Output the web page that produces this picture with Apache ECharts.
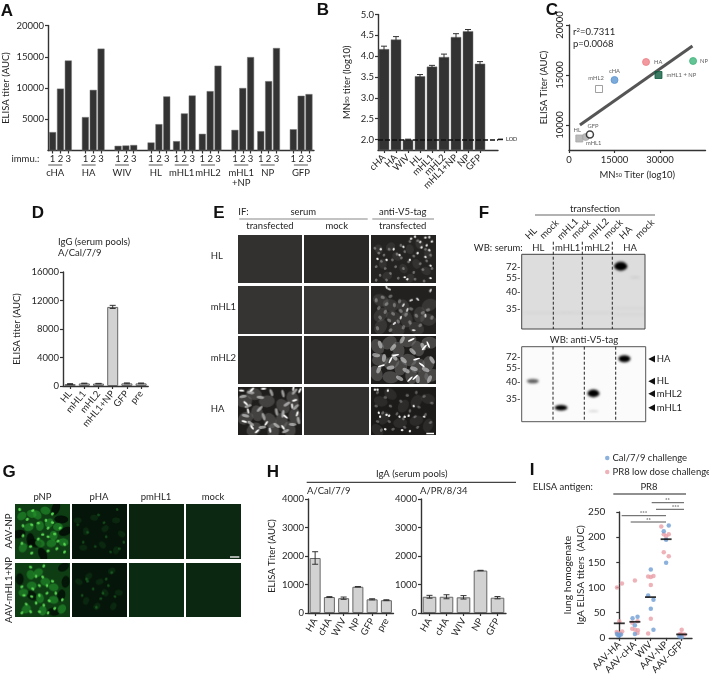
<!DOCTYPE html>
<html><head><meta charset="utf-8">
<style>html,body{margin:0;padding:0;background:#fff}#c{width:709px;height:677px}</style>
<script src="https://cdn.jsdelivr.net/npm/echarts@6/dist/echarts.min.js"></script>
</head><body><div id="c"></div>
<script>
// ---------- data ----------
const groupsA = ['cHA','HA','WIV','HL','mHL1','mHL2','mHL1\n+NP','NP','GFP'];
const startsA = [0.59,4.77,8.94,13.15,16.4,19.69,23.85,27.15,31.3];
const immu = ['1','2','3'];
const valuesA = [[2950,9900,14400],[5350,9700,16300],[750,800,880],[1280,4220,8650],[1500,5930,8800],[2670,9500,13570],[3300,10000,14950],[3100,11100,16400],[3400,8760,9030]];
const catsB = ['cHA','HA','WIV','HL','mHL1','mHL2','mHL1+NP','NP','GFP',''];
const valuesB = [4.17,4.4,2.0,3.52,3.75,3.98,4.46,4.6,3.82];
const errB = [0.07,0.07,0.01,0.04,0.03,0.07,0.08,0.04,0.05];
const namesC = ['cHA','HA','NP','mHL1 + NP','mHL2','GFP','HL','mHL1'];
const mnC = [15000,25400,40900,29500,9900,6900,3400,5500];
const elisaC = [14500,16300,16400,15000,13600,9050,8650,8800];
const fitC = [[3600,10000],[40700,17900]];
const catsD = ['HL','mHL1','mHL2','mHL1+NP','GFP','pre'];
const valuesD = [270,360,340,11100,370,370];
const errD = [60,40,30,220,60,50];
const catsH1 = ['HA','cHA','WIV','NP','GFP','pre'];
const valuesH1 = [1930,560,520,920,480,450];
const errH1 = [220,15,40,10,20,15];
const catsH2 = ['HA','cHA','WIV','NP','GFP'];
const valuesH2 = [570,570,550,1490,537];
const errH2 = [50,70,60,8,40];
const catsI = ['AAV-HA','AAV-cHA','WIV','AAV-NP','AAV-GFP'];
const calI = [[-.15,8],[0,5],[.11,7],[-.06,5],[.85,39],[1.17,42],[1,25],[1,8],[2.02,136],[1.85,84],[2.19,76],[2.02,58],[2.19,16],[3.17,223],[2.85,212],[3,195],[3,149],[3.85,3],[4,2]];
const pr8I = [[-.15,100],[.17,108],[0,33],[-.17,12],[.19,13],[-.1,10],[.05,9],[1,114],[.83,30],[1.17,33],[.83,18],[1.02,16],[1.19,15],[1.17,10],[1.85,122],[2.02,121],[2.19,123],[2.02,105],[2.02,38],[1.85,9],[2.69,221],[2.85,206],[3.17,206],[3,202],[2.85,170],[3.17,162],[4,16],[3.85,7],[4,7],[4.17,7],[3.92,8]];
const meanI = [29,32,81,196,7];

// ---------- micrograph textures (hand-placed blobs, % of panel) ----------
const photos = {
 e1:{bg:'#242321',layers:[
  {c:'#bbb',rx:5,ry:4,a:.1,p:[[12,30],[30,25],[18,60],[40,45],[60,30],[75,20],[88,40],[70,60],[50,70],[25,85],[85,75],[60,90]]},
  {c:'#ccc',rx:1.5,ry:1.3,a:.45,p:[[6,28],[12,38],[20,42],[28,30],[16,55],[33,52],[40,40],[47,48],[46,22],[52,35],[60,14],[72,12],[84,30],[92,42],[66,44],[58,56],[76,60],[86,54],[80,72],[94,70],[66,78],[50,70],[38,66],[22,70],[8,66],[14,84],[30,80],[8,94],[24,94],[42,90],[68,92],[82,96]]},
  {c:'#fff',rx:1.3,ry:1.1,a:.95,p:[[15,30],[44,42],[50,25],[62,8],[68,4],[76,15],[84,6],[90,5],[94,14],[78,26],[86,22],[90,32],[72,38],[60,52],[84,46],[52,88],[56,92],[92,90],[24,52],[92,64],[35,30],[10,50]]}]},
 e2:{bg:'#222120',layers:[
  {c:'#aaa',rx:8,ry:6,a:.16,p:[[15,30],[30,40],[15,60],[35,65],[50,45],[55,70],[75,60],[88,70],[70,88],[40,90],[15,85],[90,40]]},
  {c:'#ccc',rx:2.2,ry:1.6,a:.42,p:[[8,30],[18,24],[30,22],[24,38],[12,46],[36,40],[44,32],[22,54],[34,58],[46,52],[54,60],[14,66],[28,72],[42,74],[60,76],[70,62],[80,56],[88,50],[94,66],[76,82],[50,86],[30,92],[62,48],[10,88]]},
  {c:'#fff',rx:2,ry:1,a:.85,p:[[24,3],[28,7],[50,40],[62,30],[72,28],[56,50],[46,66],[84,62],[36,78],[66,92],[92,10]]}]},
 e3:{bg:'#1e1d1c',layers:[
  {c:'#888',rx:8,ry:6,a:.4,p:[[10,22],[28,14],[42,28],[58,10],[72,26],[90,14],[14,50],[32,56],[58,50],[72,62],[88,58],[30,86],[62,84],[80,88],[8,78],[46,66],[94,82]]},
  {c:'#ccc',rx:4,ry:2,a:.65,p:[[14,18],[34,24],[48,8],[64,32],[80,22],[20,46],[36,44],[30,66],[54,72],[66,68],[84,70],[94,50],[12,70],[44,88],[72,90],[90,90],[50,50],[8,40]]},
  {c:'#fff',rx:3.6,ry:.9,a:1,p:[[88,18],[82,24],[38,40],[30,50],[68,86],[60,90],[16,62],[78,60],[62,8],[70,48]]}]},
 e4:{bg:'#1f1e1c',layers:[
  {c:'#888',rx:8,ry:6,a:.35,p:[[10,30],[25,15],[45,30],[70,40],[85,25],[12,65],[30,55],[50,70],[68,70],[88,60],[25,88],[55,92],[80,88]]},
  {c:'#ccc',rx:3.8,ry:1.5,a:.7,p:[[8,20],[20,12],[35,22],[52,12],[70,14],[88,10],[16,40],[34,46],[60,52],[76,36],[90,42],[12,60],[40,62],[70,56],[85,78],[20,76],[38,84],[60,80],[74,92],[94,70]]},
  {c:'#fff',rx:2.8,ry:1,a:1,p:[[6,8],[22,6],[40,4],[86,3],[96,8],[12,34],[88,28],[84,40],[10,72],[22,84],[30,92],[44,76],[50,90],[70,84],[74,62],[92,56],[16,50]]}]},
 e5:{bg:'#1c1b1a',layers:[
  {c:'#999',rx:7,ry:5,a:.13,p:[[15,30],[30,15],[50,40],[70,30],[88,25],[20,65],[45,75],[70,70],[88,80],[10,90]]},
  {c:'#ccc',rx:1.8,ry:1.3,a:.4,p:[[10,12],[22,22],[8,40],[30,40],[46,30],[56,18],[70,12],[82,20],[94,34],[74,42],[60,50],[40,56],[18,54],[10,72],[28,72],[50,66],[68,62],[84,58],[92,74],[72,84],[52,84],[34,88],[16,90]]},
  {c:'#fff',rx:1.3,ry:1.1,a:.95,p:[[6,6],[10,6],[26,8],[12,54],[14,62],[22,88],[28,60],[44,62],[24,58],[48,90],[52,62],[58,60],[60,92],[66,40],[82,62]]}]},
 g1:{bg:'#0e3d14',layers:[
  {c:'#020c04',rx:7,ry:4,a:.9,p:[[28,66],[36,72],[74,8],[84,28],[92,50],[6,55],[50,92]]},
  {c:'#25952b',rx:5,ry:4,a:.6,p:[[12,22],[30,18],[55,12],[45,40],[62,35],[78,42],[88,70],[66,72],[14,80],[45,72],[25,42],[40,20],[70,58]]},
  {c:'#58d652',rx:1.7,ry:1.3,a:1,p:[[8,10],[32,12],[22,28],[30,38],[14,40],[42,35],[56,30],[60,44],[68,34],[82,44],[72,55],[60,60],[50,56],[78,68],[90,74],[14,58],[12,72],[28,78],[42,64],[60,86],[76,82],[90,88],[30,90],[68,18]]}]},
 g2:{bg:'#0e3d14',layers:[
  {c:'#020c04',rx:6,ry:4,a:.8,p:[[8,30],[88,8],[92,35],[70,90],[30,60],[84,60]]},
  {c:'#25952b',rx:5,ry:4,a:.6,p:[[42,18],[55,35],[70,45],[30,42],[15,55],[45,65],[70,68],[20,85],[50,88],[85,85],[28,22]]},
  {c:'#58d652',rx:1.7,ry:1.3,a:1,p:[[28,8],[52,6],[38,25],[50,26],[58,42],[68,34],[44,42],[32,48],[12,44],[16,60],[30,62],[44,60],[58,56],[74,56],[86,68],[62,70],[20,76],[38,74],[52,78],[72,84],[28,90],[44,90],[12,92],[60,92]]}]},
 g3:{bg:'#061509',layers:[
  {c:'#1e7a2a',rx:4,ry:3,a:.2,p:[[10,30],[25,50],[40,25],[60,45],[80,30],[90,55],[20,80],[55,75],[80,85]]},
  {c:'#2fb040',rx:1.5,ry:1.3,a:.35,p:[[10,38],[28,52],[48,20],[58,34],[82,10],[62,60],[20,70],[42,78],[70,88],[86,82],[94,70]]}]},
 g4:{bg:'#061509',layers:[
  {c:'#1e7a2a',rx:4,ry:3,a:.2,p:[[12,35],[30,25],[50,35],[72,15],[60,55],[85,55],[25,70],[45,80],[75,80]]},
  {c:'#2fb040',rx:1.5,ry:1.3,a:.38,p:[[26,30],[28,34],[38,48],[56,56],[62,30],[72,18],[18,60],[44,82],[66,42],[78,62],[52,66]]}]},
 b1:{bg:'#dddddd',flat:1,layers:[
  {c:'#bbb',rx:24,ry:.6,a:.35,p:[[20,78],[55,78],[92,72],[92,80]]},
  {c:'#aaa',rx:5,ry:.7,a:.4,p:[[92,31]]},
  {c:'#000',rx:6.6,ry:4.4,a:1,p:[[80.3,16]]}]},
 b2:{bg:'#fbfbfb',flat:1,layers:[
  {c:'#333',rx:6,ry:2.2,a:.8,p:[[8.9,45.8]]},
  {c:'#000',rx:6.4,ry:2.8,a:1,p:[[31.7,81.3]]},
  {c:'#000',rx:6,ry:3.8,a:1,p:[[57.8,62.2]]},
  {c:'#888',rx:5,ry:.5,a:.6,p:[[57.8,85.8]]},
  {c:'#000',rx:6,ry:3.4,a:1,p:[[82.8,16]]}]}
};
function tex(s,w,h,bl){
  const cv=document.createElement('canvas');cv.width=w;cv.height=h;
  const x=cv.getContext('2d');x.fillStyle=s.bg;x.fillRect(0,0,w,h);
  x.filter='blur('+(bl||1)+'px)';
  (s.layers||[]).forEach(l=>{x.fillStyle=l.c;x.globalAlpha=l.a;l.p.forEach(p=>{
    x.beginPath();x.ellipse(p[0]/100*w,p[1]/100*h,l.rx,l.ry,s.flat?0:(p[0]*7+p[1]*3)%3.14,0,7);x.fill();});});
  return cv;
}
// ---------- builders ----------
const F='Lato,"Noto Sans",sans-serif',INK='#262626',FS=9.5;
const fmt=v=>String(v);
const grid=[],xAxis=[],yAxis=[],series=[],graphic=[];
function T(x,y,s,o){o=o||{};graphic.push({type:'text',x:x,y:y,rotation:(o.rot||0)*Math.PI/180,z:20,style:{text:s,fontFamily:o.ff||F,fontSize:o.fs||FS,fontWeight:o.fw||'normal',fill:o.c||INK,textAlign:o.al||'center',textVerticalAlign:'middle',rich:o.rich}});}
function L(a,b,c,d,o){o=o||{};graphic.push({type:'line',z:o.z||15,shape:{x1:a,y1:b,x2:c,y2:d},style:{stroke:o.c||'#444',lineWidth:o.w||1,lineDash:o.dash}});}
function IMG(n,x,y,w,h,bl){graphic.push({type:'image',z:1,style:{image:tex(photos[n]||{bg:n},Math.round(w),Math.round(h),bl),x:x,y:y,width:w,height:h}});}
function addAxes(g,x,y){const i=grid.length;grid.push(g);x.gridIndex=i;y.gridIndex=i;xAxis.push(x);yAxis.push(y);return i;}
const axL={lineStyle:{color:'#333',width:1.4}},tick={lineStyle:{color:'#333',width:1.2},length:3};
const lab=(o)=>Object.assign({color:INK,fontFamily:F,fontSize:FS,margin:4,formatter:fmt},o||{});
function yA(o){return Object.assign({type:'value',splitLine:{show:false},axisLine:Object.assign({show:true},axL),axisTick:Object.assign({show:true},tick),nameLocation:'middle',nameTextStyle:{color:INK,fontFamily:F,fontSize:FS}},o);}
function errSeries(i,cats,vals,errs,cap){series.push({type:'custom',xAxisIndex:i,yAxisIndex:i,z:5,silent:true,
  data:vals.map((v,k)=>[k,v-errs[k],v+errs[k]]),encode:{x:0,y:[1,2]},
  renderItem:(p,api)=>{const a=api.coord([api.value(0),api.value(1)]),b=api.coord([api.value(0),api.value(2)]);
    const st={stroke:'#333',lineWidth:1};
    return {type:'group',children:[{type:'line',shape:{x1:a[0],y1:a[1],x2:b[0],y2:b[1]},style:st},
      {type:'line',shape:{x1:a[0]-cap,y1:a[1],x2:a[0]+cap,y2:a[1]},style:st},{type:'line',shape:{x1:b[0]-cap,y1:b[1],x2:b[0]+cap,y2:b[1]},style:st}]};}});}
function barPanel(g,cats,vals,errs,bw,y,col,rot,cap){
  const i=addAxes(g,{type:'category',data:cats,axisLine:axL,axisTick:Object.assign({show:true,alignWithLabel:true,interval:(k)=>cats[k]!==''},tick),
    axisLabel:lab({rotate:rot,interval:0,margin:6,formatter:null})},y);
  series.push({type:'bar',xAxisIndex:i,yAxisIndex:i,data:vals,barWidth:bw,itemStyle:{color:col,borderColor:col=='#333'?'#777':'#666',borderWidth:col=='#333'?.5:1}});
  errSeries(i,cats,vals,errs,cap||3);return i;
}
// A
{const pos=[],vals=[],labs={};
 startsA.forEach((s,g)=>immu.forEach((n,k)=>{const p=s+k;pos.push(p);vals.push([p,valuesA[g][k]]);labs[p.toFixed(2)]=n;}));
 const i=addAxes({left:42.5,top:25.5,width:271.5,height:125},
  {type:'value',min:0,max:33.94,splitLine:{show:false},axisLine:axL,
   axisTick:Object.assign({show:true,customValues:pos},tick),
   axisLabel:lab({customValues:pos,formatter:v=>labs[(+v).toFixed(2)]||'',margin:3,hideOverlap:false,showMinLabel:true,showMaxLabel:true})},
  yA({min:0,max:20000,name:'ELISA titer (AUC)',nameGap:37,axisTick:Object.assign({show:true,customValues:[5000,10000,15000,20000]},tick),axisLabel:lab({customValues:[5000,10000,15000,20000]})}));
 series.push({type:'bar',xAxisIndex:i,yAxisIndex:i,data:vals,barWidth:7,itemStyle:{color:'#333',borderColor:'#777',borderWidth:.5}});
 T(11.5,159,'immu.:',{al:'left'});
 groupsA.forEach((g,k)=>{const cx=42.5+(startsA[k]+1)*8;L(cx-7,165,cx+7,165,{c:'#555'});
   const pts=g.split('\n');pts.forEach((t,j)=>T(cx,172.5+j*10.5,t));});
 T(7,11,'A',{fw:'bold',fs:17,ff:'"Liberation Sans"',c:'#111'});}
// B
{const i=barPanel({left:378,top:14.5,width:120,height:135.5},catsB,valuesB,errB,10.5,
  yA({min:1.75,max:5,axisTick:Object.assign({show:true,customValues:[2,2.5,3,3.5,4,4.5,5]},tick),axisLabel:lab({customValues:[2,2.5,3,3.5,4,4.5,5],formatter:v=>(+v).toFixed(1)}),
     name:'MN{s|50} titer (log10)',nameGap:26,nameTextStyle:{color:INK,fontFamily:F,fontSize:FS,rich:{s:{fontSize:5.5,fontFamily:F,color:INK}}}}),'#333',45,3);
 series[series.length-2].markLine={silent:true,symbol:'none',label:{show:false},animation:false,lineStyle:{color:'#111',type:[5,2],width:1.6},data:[{yAxis:2}]};
 L(498,139.4,505,139.4,{c:'#111',w:1.6,dash:[5,2]});
 T(506,139.5,'LOD',{al:'left',fs:5.5});
 T(323,10,'B',{fw:'bold',fs:17,ff:'"Liberation Sans"',c:'#111'});}
// C
{const st=[{s:'circle',c:'#5b95d0'},{s:'circle',c:'#ee7f86'},{s:'circle',c:'#3fb57a'},{s:'rect',c:'#0c5a3e'},{s:'rect',c:'#fff',b:'#888'},{s:'circle',c:'#fff',b:'#111',bw:1.5},{s:'rect',c:'#a8a8a8'},{s:'circle',c:'#a8a8a8'}];
 const lp=[{position:'top',distance:2},{position:'right',distance:4},{position:'right',distance:3},{position:'right',distance:4},{position:'top',offset:[-3,-1],distance:3},{position:'top',offset:[3,0],distance:1},{position:'top',offset:[-2,0],distance:1},{position:'bottom',offset:[8,-3],distance:2}];
 const i=addAxes({left:569,top:25,width:136.5,height:125},
  {type:'value',min:0,max:45000,splitLine:{show:false},axisLine:axL,axisTick:Object.assign({show:true,customValues:[0,15000,30000]},tick),axisLabel:lab({customValues:[0,15000,30000],margin:5}),
   name:'MN{s|50} Titer (log10)',nameLocation:'middle',nameGap:20,nameTextStyle:{color:INK,fontFamily:F,fontSize:FS,rich:{s:{fontSize:5.5,fontFamily:F,color:INK}}}},
  yA({min:7500,max:20000,name:'ELISA Titer (AUC)',nameGap:20,axisTick:Object.assign({show:true,customValues:[10000,15000,20000]},tick),axisLabel:lab({rotate:90,customValues:[10000,15000,20000],margin:4})}));
 series.push({type:'line',xAxisIndex:i,yAxisIndex:i,data:fitC,showSymbol:false,symbol:'none',z:2,lineStyle:{color:'#555',width:3}});
 series.push({type:'scatter',xAxisIndex:i,yAxisIndex:i,z:4,data:[7,6,0,1,2,3,4,5].map(k=>({value:[mnC[k],elisaC[k]],name:namesC[k],symbol:st[k].s,symbolSize:st[k].s=='rect'?[7,7]:7,
    itemStyle:{color:st[k].c,borderColor:st[k].b||st[k].c,borderWidth:st[k].bw||1},
    label:Object.assign({show:true,formatter:namesC[k],fontSize:5.8,fontFamily:F,color:'#333'},lp[k])}))});
 T(573,32,'r{u|2}=0.7311',{al:'left',rich:{u:{fontSize:6,verticalAlign:'top',fontFamily:F,fill:INK,color:INK}}});
 T(573,43.5,'p=0.0068',{al:'left'});
 T(552,10,'C',{fw:'bold',fs:17,ff:'"Liberation Sans"',c:'#111'});}
// D
{barPanel({left:63,top:272,width:85.2,height:114},catsD,valuesD,errD,11,
  yA({min:0,max:16000,interval:4000,name:'ELISA titer (AUC)',nameGap:41,axisLabel:lab()}),'#d2d2d2',50,3);
 T(58,241.7,'IgG (serum pools)',{al:'left'});T(58,252.5,'A/Cal/7/9',{al:'left'});
 T(38,213,'D',{fw:'bold',fs:17,ff:'"Liberation Sans"',c:'#111'});}
// E
{const X=[237.7,304.3,371],Y=[234.7,285.7,336,386.7],W=64.7,H=48.3;
 const cells=[['#33312f','#2b2927','e1'],['#363432','#393735','e2'],['#2f2d2b','#2e2c2a','e3'],['e4','#33312f','e5']];
 cells.forEach((r,j)=>r.forEach((n,i)=>IMG(n,X[i],Y[j],W,H,.5)));
 ['HL','mHL1','mHL2','HA'].forEach((t,k)=>T(210.7,[255.7,306.7,357.7,409][k],t,{al:'left'}));
 T(238.3,212.3,'IF:',{al:'left'});T(303.3,212.3,'serum');T(402.7,212.3,'anti-V5-tag');
 L(239.3,219,367.7,219,{c:'#888',w:1.2});L(372.3,219,434,219,{c:'#888',w:1.2});
 T(270,225.7,'transfected');T(336.7,225.7,'mock');T(402.7,225.7,'transfected');
 L(426.3,433.5,434,433.5,{c:'#fff',w:1.5});
 T(219,213,'E',{fw:'bold',fs:17,ff:'"Liberation Sans"',c:'#111'});}
// F
{IMG('b1',521.7,254.3,123.3,74.7,.8);IMG('b2',521.7,346.7,124,75,.8);
 graphic.push({type:'rect',z:3,shape:{x:521.7,y:254.3,width:123.3,height:74.7},style:{fill:'none',stroke:'#444',lineWidth:1}});
 graphic.push({type:'rect',z:3,shape:{x:521.7,y:346.7,width:124,height:75},style:{fill:'none',stroke:'#555',lineWidth:1}});
 [553.3,582.3,612.3].forEach(x=>L(x,241.7,x,329,{c:'#222',dash:[3,2]}));
 [553,584.3,615.7].forEach(x=>L(x,346.7,x,421.7,{c:'#222',dash:[3,2]}));
 T(595,209.3,'transfection');L(535,215,655,215,{c:'#666',w:1.2});
 [['HL',531,233.3],['mock',549.3,229.3],['mHL1',567.7,229],['mock',581,229],['mHL2',598.3,229],['mock',613.3,229],['HA',625.7,232.7],['mock',644.7,229]].forEach(a=>T(a[1],a[2],a[0],{rot:45}));
 T(522.7,248.3,'WB: serum:',{al:'right'});
 [['HL',538.3],['mHL1',567.7],['mHL2',597.3],['HA',630]].forEach(a=>T(a[1],248.3,a[0]));
 [['72-',266.7],['55-',278.3],['40-',292],['35-',309]].forEach(a=>T(520.5,a[1],a[0],{al:'right'}));
 [['72-',357.3],['55-',368.3],['40-',382.3],['35-',399.3]].forEach(a=>T(520.5,a[1],a[0],{al:'right'}));
 T(584,340.3,'WB: anti-V5-tag');
 [['HA',359],['HL',381.3],['mHL2',393.7],['mHL1',407.7]].forEach(a=>{
   graphic.push({type:'polygon',z:15,shape:{points:[[648.3,a[1]],[655,a[1]-3.5],[655,a[1]+3.5]]},style:{fill:'#111'}});
   T(656.7,a[1],a[0],{al:'left'});});
 T(484,213,'F',{fw:'bold',fs:17,ff:'"Liberation Sans"',c:'#111'});}
// G
{const X=[15.3,72.3,129.3,186],Y=[504,562.7],W=54.7,H=54.5;
 const cells=[['g1','g3','#0a2410','#0c2812'],['g2','g4','#0b2a12','#0b2611']];
 cells.forEach((r,j)=>r.forEach((n,i)=>IMG(n,X[i],Y[j],W,H,.5)));
 [['pNP',42.5],['pHA',99],['pmHL1',156],['mock',213]].forEach(a=>T(a[1],496.5,a[0]));
 T(8.5,531,'AAV-NP',{rot:90});T(8.5,590,'AAV-mHL1+NP',{rot:90});
 L(230,557,239.3,557,{c:'#ddd',w:1.5});
 T(9,472,'G',{fw:'bold',fs:17,ff:'"Liberation Sans"',c:'#111'});}
// H
{barPanel({left:308,top:499,width:85.5,height:114},catsH1,valuesH1,errH1,11,
  yA({min:0,max:4000,interval:1000,name:'ELISA Titer (AUC)',nameGap:31,axisLabel:lab()}),'#d2d2d2',60,3);
 barPanel({left:421,top:499,width:85,height:114},catsH2,valuesH2,errH2,13.6,
  yA({min:0,max:4000,interval:1000,axisLabel:lab()}),'#d2d2d2',60,3);
 L(306.7,482.3,516,482.3,{c:'#444',w:1.2});T(411.7,474,'IgA (serum pools)');
 T(307,490.7,'A/Cal/7/9',{al:'left'});T(420,490.7,'A/PR/8/34',{al:'left'});
 T(273,472,'H',{fw:'bold',fs:17,ff:'"Liberation Sans"',c:'#111'});}
// I
{const i=addAxes({left:609.3,top:512,width:82.7,height:126.3},
  {type:'value',min:-.64,max:4.66,splitLine:{show:false},axisLine:axL,axisTick:Object.assign({show:true,customValues:[0,1,2,3,4]},tick),
   axisLabel:lab({customValues:[0,1,2,3,4],formatter:v=>catsI[+v]||'',rotate:45,margin:5,hideOverlap:false,showMinLabel:true,showMaxLabel:true})},
  yA({min:0,max:250,interval:50,axisLabel:lab({fontSize:10})}));
 series.push({name:'PR8 low dose challenge',type:'scatter',xAxisIndex:i,yAxisIndex:i,data:pr8I,symbolSize:4.5,itemStyle:{color:'#ea9fa8'},z:3});
 series.push({name:'Cal/7/9 challenge',type:'scatter',xAxisIndex:i,yAxisIndex:i,data:calI,symbolSize:4.5,itemStyle:{color:'#6f9dd3'},z:3});
 series.push({type:'scatter',xAxisIndex:i,yAxisIndex:i,data:meanI.map((v,k)=>[k,v]),symbol:'rect',symbolSize:[11,1.8],itemStyle:{color:'#000'},z:5});
 T(567.7,575,'lung homogenate',{rot:90,fs:10.3});T(580.7,575,'IgA ELISA titers  (AUC)',{rot:90,fs:10});
 T(532.7,487,'ELISA antigen:',{al:'left'});T(649,487,'PR8');L(613.3,494,686,494,{c:'#222',w:1.2});
 L(651.7,502.7,684,502.7,{c:'#555'});L(656,509.3,684,509.3,{c:'#555'});L(621.7,515.7,666,515.7,{c:'#555'});L(630.7,522,666,522,{c:'#555'});
 T(667.5,500.5,'**',{fs:6});T(675.5,507,'***',{fs:6});T(643.5,513.5,'***',{fs:6});T(648.5,520,'**',{fs:6});
 T(532,470.7,'I',{fw:'bold',fs:17,ff:'"Liberation Sans"',c:'#111'});}

const chart=echarts.init(document.getElementById('c'),null,{renderer:'canvas'});
chart.setOption({animation:false,backgroundColor:'#fff',grid,xAxis,yAxis,series,
 legend:{show:true,orient:'vertical',left:605,top:453,itemWidth:4.5,itemHeight:4.5,itemGap:4,icon:'circle',selectedMode:false,padding:0,
  data:['Cal/7/9 challenge','PR8 low dose challenge'],textStyle:{fontFamily:F,fontSize:FS,color:INK,padding:[0,0,0,-2]}},
 graphic:{elements:graphic}});
</script></body></html>
